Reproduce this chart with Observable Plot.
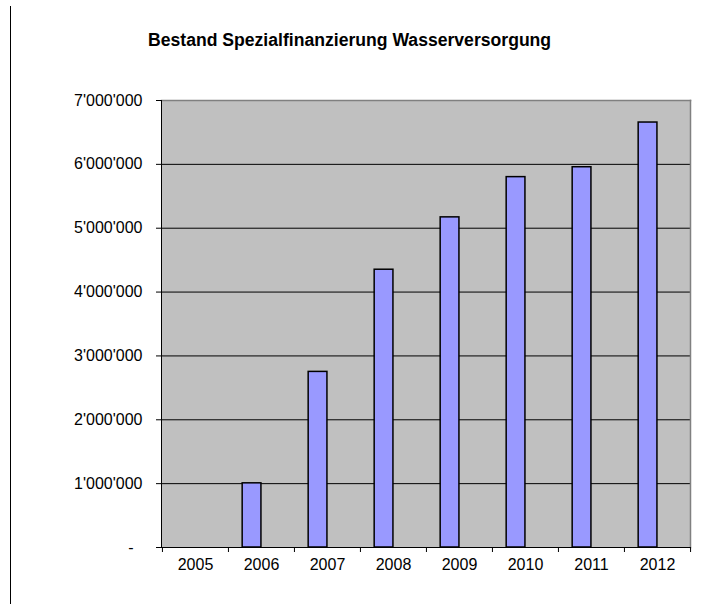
<!DOCTYPE html>
<html>
<head>
<meta charset="utf-8">
<script src="https://cdn.jsdelivr.net/npm/d3@7"></script>
<script src="https://cdn.jsdelivr.net/npm/@observablehq/plot@0.6"></script>
<style>
  html, body { margin: 0; padding: 0; background: #fff; }
  body { width: 703px; height: 604px; position: relative; overflow: hidden; font-family: "Liberation Sans", Arial, sans-serif; }
  #leftline { position: absolute; left: 10px; top: 6px; width: 0; height: 598px; border-left: 1.5px solid #000; }
  #title { position: absolute; left: 148px; top: 30px; white-space: nowrap; font-weight: bold; font-size: 17.6px; line-height: 20px; color: #000; }
  #chart { position: absolute; left: 0; top: 60px; }
</style>
</head>
<body>
<div id="leftline"></div>
<div id="title">Bestand Spezialfinanzierung Wasserversorgung</div>
<div id="chart"></div>
<script>
const years = ["2005", "2006", "2007", "2008", "2009", "2010", "2011", "2012"];
const values = [0, 1005000, 2750000, 4350000, 5170000, 5800000, 5955000, 6655000];
const yTicks = [0, 1000000, 2000000, 3000000, 4000000, 5000000, 6000000, 7000000];

const data = years.map((year, i) => ({year, value: values[i]}));

const W = 703, H = 544;
const mL = 161, mR = 13, mT = 40, mB = 57;
const bw = (W - mL - mR) / years.length;
const gap = 1.5; // Excel gap width 150%, two series slots
const slot = bw / (2 + gap);

const loc = d3.formatLocale({decimal: ".", thousands: "'", grouping: [3], currency: ["", ""]});
const fmt = loc.format(",d");
const tickFormat = d => d === 0 ? "-\u00a0\u00a0" : fmt(d);

const chart = Plot.plot({
  width: W,
  height: H,
  marginLeft: mL,
  marginRight: mR,
  marginTop: mT,
  marginBottom: mB,
  style: {fontFamily: "'Liberation Sans', Arial, sans-serif", fontSize: "16px", color: "#000", background: "transparent"},
  x: {type: "band", domain: years, padding: 0, axis: null},
  y: {domain: [0, 7000000], axis: null},
  marks: [
    Plot.frame({fill: "#C0C0C0", stroke: null}),
    Plot.gridY(yTicks.slice(1, -1), {stroke: "#000", strokeOpacity: 1, strokeWidth: 1}),
    Plot.barY(data, {x: "year", y: "value", fill: "#9999FF", stroke: "#000", strokeWidth: 1.5, insetLeft: slot * gap / 2, insetRight: bw - slot * (gap / 2 + 1)}),
    Plot.frame({anchor: "top", stroke: "#808080", strokeWidth: 1.5}),
    Plot.frame({anchor: "right", stroke: "#808080", strokeWidth: 1.5}),
    Plot.frame({anchor: "left", stroke: "#000", strokeWidth: 1}),
    Plot.ruleY([0], {stroke: "#000", strokeWidth: 1}),
    Plot.axisY(yTicks, {tickSize: 5, tickPadding: 14, tickFormat, fontSize: 16, stroke: "#000", fill: "#000", label: null}),
    Plot.axisX(years, {tickSize: 5, dx: -bw / 2, stroke: "#000", fill: "none", label: null}),
    Plot.axisX([years[years.length - 1]], {tickSize: 5, dx: bw / 2, stroke: "#000", fill: "none", label: null}),
    Plot.axisX(years, {tickSize: 0, tickPadding: 11, fontSize: 16, fill: "#000", label: null})
  ]
});
document.getElementById("chart").appendChild(chart);
</script>
</body>
</html>
